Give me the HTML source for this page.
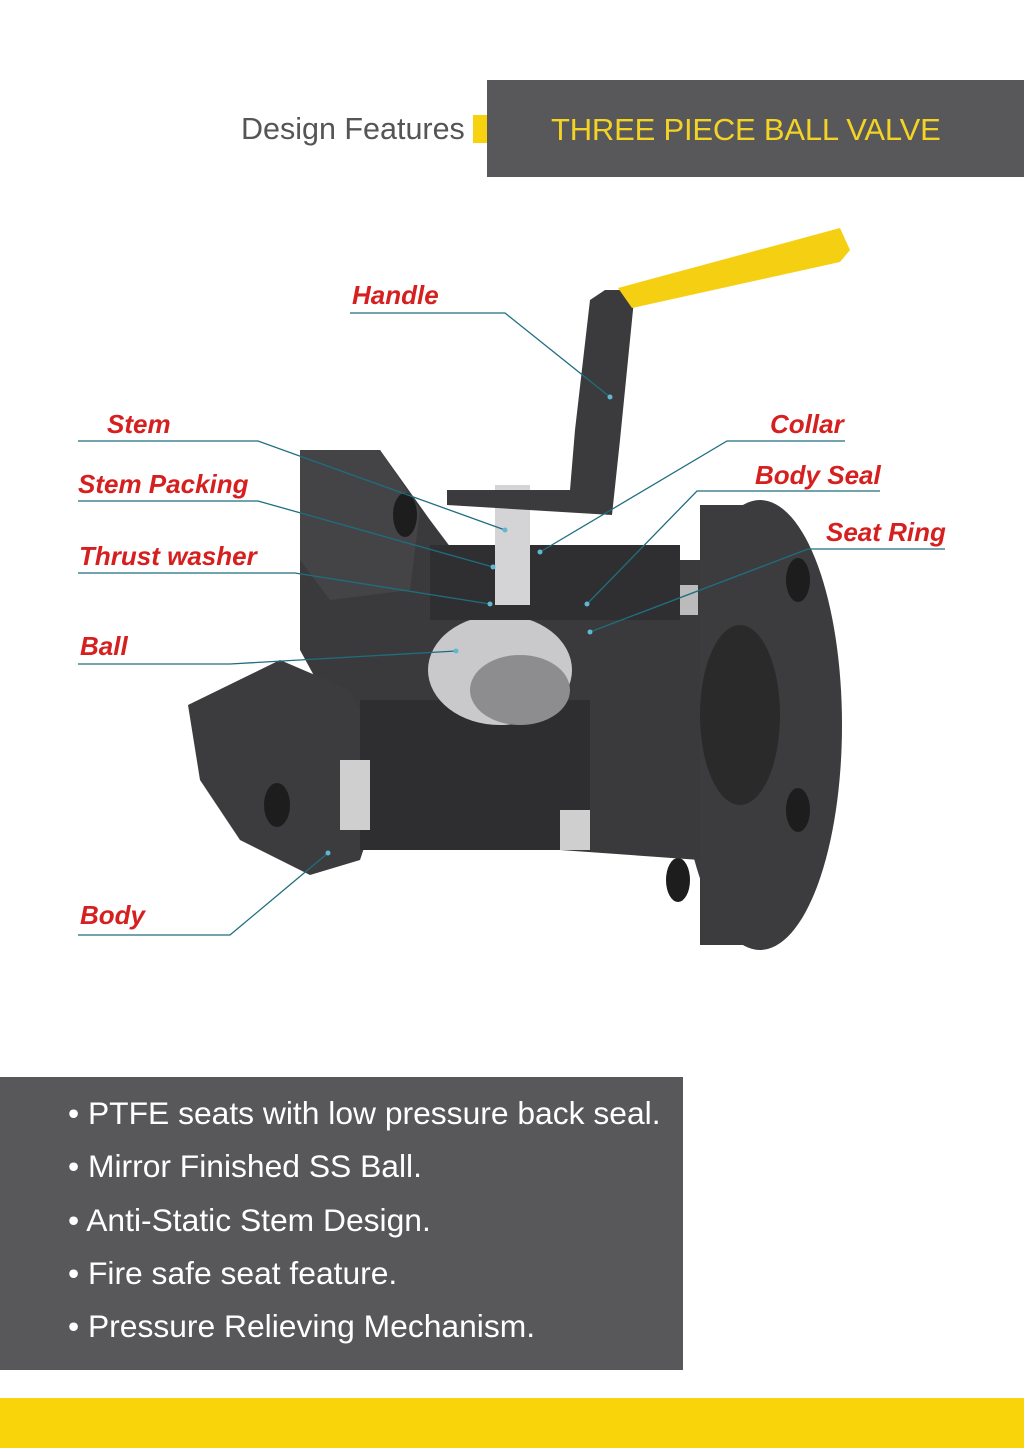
<!DOCTYPE html>
<html><head><meta charset="utf-8"><style>
body{margin:0;width:1024px;height:1448px;background:#fff;position:relative;overflow:hidden;font-family:"Liberation Sans",sans-serif}
.hdr{position:absolute;left:487px;top:80px;width:537px;height:97px;background:#58575a}
.hdr span{position:absolute;left:64px;top:32px;color:#f3d324;font-size:31px;letter-spacing:-0.2px}
.df{position:absolute;left:241px;top:112px;font-size:30.5px;color:#555}
.yb{position:absolute;left:473px;top:115px;width:14px;height:28px;background:#f6d20f}
.lbl{position:absolute;color:#d6201f;font-weight:bold;font-style:italic;font-size:26px}
.box{position:absolute;left:0;top:1077px;width:683px;height:293px;background:#58575a}
.box div{position:absolute;left:68px;color:#fff;font-size:31.8px;white-space:nowrap}
.foot{position:absolute;left:0;top:1398px;width:1024px;height:50px;background:#f9d40a}
</style></head><body>
<div class="df">Design Features</div><div class="yb"></div>
<div class="hdr"><span>THREE PIECE BALL VALVE</span></div>
<svg width="1024" height="1448" style="position:absolute;left:0;top:0">
<ellipse cx="760" cy="725" rx="82" ry="225" fill="#3c3c3e"/>
<rect x="700" y="505" width="60" height="440" fill="#3c3c3e"/>
<ellipse cx="740" cy="715" rx="40" ry="90" fill="#2a2a2b"/>
<ellipse cx="798" cy="580" rx="12" ry="22" fill="#1d1d1e"/>
<ellipse cx="798" cy="810" rx="12" ry="22" fill="#1d1d1e"/>
<ellipse cx="678" cy="880" rx="12" ry="22" fill="#1d1d1e"/>
<polygon points="300,450 380,450 430,520 460,560 700,560 700,860 560,850 430,800 360,760 300,650" fill="#3a3a3c"/>
<polygon points="300,450 380,450 420,510 410,590 330,600 300,560" fill="#444446"/>
<ellipse cx="405" cy="515" rx="12" ry="22" fill="#1d1d1e"/>
<polygon points="188,705 280,660 350,690 390,770 360,860 310,875 240,840 200,780" fill="#3c3c3e"/>
<ellipse cx="277" cy="805" rx="13" ry="22" fill="#1d1d1e"/>
<rect x="360" y="700" width="230" height="150" fill="#2e2e30"/>
<rect x="340" y="760" width="30" height="70" fill="#cfcfcf"/>
<rect x="560" y="810" width="30" height="40" fill="#cfcfcf"/>
<ellipse cx="500" cy="670" rx="72" ry="55" fill="#c9c9cc"/>
<ellipse cx="520" cy="690" rx="50" ry="35" fill="#8d8d90"/>
<rect x="430" y="545" width="250" height="75" fill="#2f2f31"/>
<rect x="495" y="485" width="35" height="120" fill="#d4d4d6"/>
<rect x="680" y="585" width="18" height="30" fill="#bbb"/>
<polygon points="447,490 570,490 575,430 590,300 605,290 635,290 620,440 612,515 447,505" fill="#3b3b3d"/>
<polygon points="618,288 840,228 850,250 840,262 632,308" fill="#f5d012"/>
<g stroke="#1f6e80" stroke-width="1.3" fill="none">
<polyline points="350,313 505,313 610,397"/>
<polyline points="78,441 258,441 505,530"/>
<polyline points="78,501 258,501 493,567"/>
<polyline points="78,573 295,573 490,604"/>
<polyline points="78,664 230,664 456,651"/>
<polyline points="78,935 230,935 328,853"/>
<polyline points="845,441 727,441 540,552"/>
<polyline points="880,491 697,491 587,604"/>
<polyline points="945,549 808,549 590,632"/>
</g>
<g fill="#5fb8d0"><circle cx="610" cy="397" r="2.5"/><circle cx="505" cy="530" r="2.5"/><circle cx="493" cy="567" r="2.5"/><circle cx="490" cy="604" r="2.5"/><circle cx="456" cy="651" r="2.5"/><circle cx="328" cy="853" r="2.5"/><circle cx="540" cy="552" r="2.5"/><circle cx="587" cy="604" r="2.5"/><circle cx="590" cy="632" r="2.5"/></g>
</svg>
<div class="lbl" style="left:352px;top:280px">Handle</div>
<div class="lbl" style="left:107px;top:409px">Stem</div>
<div class="lbl" style="left:78px;top:469px">Stem Packing</div>
<div class="lbl" style="left:79px;top:541px">Thrust washer</div>
<div class="lbl" style="left:80px;top:631px">Ball</div>
<div class="lbl" style="left:80px;top:900px">Body</div>
<div class="lbl" style="left:770px;top:409px">Collar</div>
<div class="lbl" style="left:755px;top:460px">Body Seal</div>
<div class="lbl" style="left:826px;top:517px">Seat Ring</div>
<div class="box">
<div style="top:18px">• PTFE seats with low pressure back seal.</div>
<div style="top:71px">• Mirror Finished SS Ball.</div>
<div style="top:125px">• Anti-Static Stem Design.</div>
<div style="top:178px">• Fire safe seat feature.</div>
<div style="top:231px">• Pressure Relieving Mechanism.</div>
</div>
<div class="foot"></div>
</body></html>
